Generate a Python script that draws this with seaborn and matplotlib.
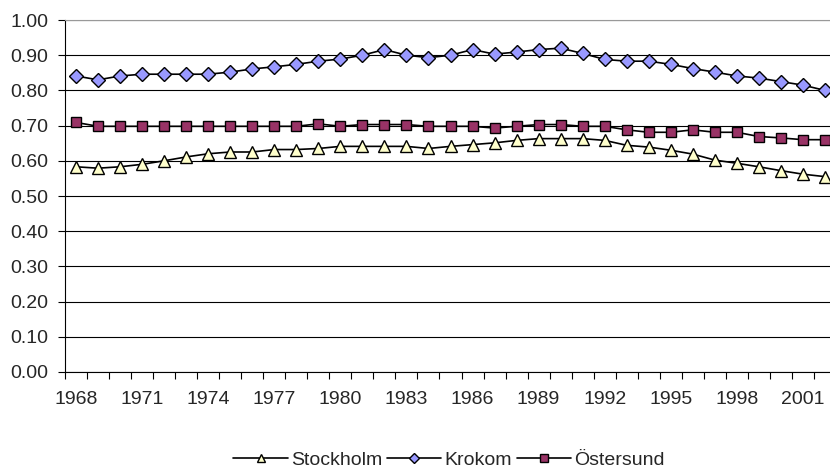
import numpy as np
import pandas as pd
import matplotlib
matplotlib.use("Agg")
import matplotlib.pyplot as plt
from matplotlib.lines import Line2D
from matplotlib.ticker import FixedLocator
import seaborn as sns

# values
years = list(range(1968, 2003))

stockholm = [0.583, 0.579, 0.583, 0.590, 0.600, 0.611, 0.620, 0.625, 0.625, 0.632,
             0.632, 0.635, 0.641, 0.641, 0.641, 0.641, 0.635, 0.641, 0.646, 0.651,
             0.658, 0.663, 0.663, 0.663, 0.658, 0.644, 0.639, 0.630, 0.619, 0.602,
             0.593, 0.583, 0.572, 0.562, 0.555]

krokom = [0.841, 0.830, 0.841, 0.846, 0.846, 0.846, 0.846, 0.852, 0.861, 0.867,
          0.874, 0.883, 0.889, 0.900, 0.916, 0.900, 0.893, 0.900, 0.916, 0.903,
          0.909, 0.916, 0.920, 0.905, 0.888, 0.883, 0.883, 0.874, 0.862, 0.852,
          0.841, 0.835, 0.825, 0.815, 0.800]

ostersund = [0.709, 0.698, 0.698, 0.698, 0.698, 0.698, 0.698, 0.698, 0.698, 0.698,
             0.698, 0.705, 0.698, 0.703, 0.703, 0.703, 0.698, 0.698, 0.698, 0.693,
             0.698, 0.703, 0.703, 0.698, 0.698, 0.688, 0.681, 0.681, 0.688, 0.681,
             0.681, 0.669, 0.665, 0.660, 0.660]

series_names = ["Stockholm", "Krokom", "Östersund"]
x_tick_labels = [str(y) for y in range(1968, 2002, 3)]
y_ticks = [0.0, 0.1, 0.2, 0.3, 0.4, 0.5, 0.6, 0.7, 0.8, 0.9, 1.0]

sns.set_style("white")
plt.rcParams['font.family'] = ['Liberation Sans', 'DejaVu Sans']

df = pd.DataFrame({"year": years, "Stockholm": stockholm,
                   "Krokom": krokom, "Östersund": ostersund})

fig = plt.figure(figsize=(8.3, 4.7), dpi=100)
# plot area runs a little past the right edge, as in the original
ax = fig.add_axes([65 / 830, 1 - 372 / 470, (836 - 65) / 830, (372 - 20) / 470])

styles = {
    "Stockholm": dict(marker="^", markerfacecolor="#FFFFCC"),
    "Krokom": dict(marker="D", markerfacecolor="#9999FF"),
    "Östersund": dict(marker="s", markerfacecolor="#993366"),
}
plot_sizes = {"Stockholm": 8.5, "Krokom": 7, "Östersund": 7}
legend_sizes = {"Stockholm": 6, "Krokom": 5, "Östersund": 5.5}

for name in series_names:
    sns.lineplot(data=df, x="year", y=name, ax=ax, color="black", linewidth=1.2,
                 markeredgecolor="black", markeredgewidth=1.0,
                 markersize=plot_sizes[name], **styles[name])

ax.set_xlim(1967.5, 2002.5)
ax.set_ylim(0, 1.0)
ax.yaxis.set_major_locator(FixedLocator(y_ticks))
ax.set_yticklabels([f"{v:.2f}" for v in y_ticks])
ax.grid(axis="y", color="black", linewidth=0.8)
ax.set_axisbelow(True)

# labels sit on categories, tick marks sit between them
ax.xaxis.set_major_locator(FixedLocator([int(s) for s in x_tick_labels]))
ax.set_xticklabels(x_tick_labels)
ax.xaxis.set_minor_locator(FixedLocator(np.arange(1967.5, 2003, 1)))
ax.tick_params(axis="x", which="major", length=0, pad=14, labelsize=14)
ax.tick_params(axis="x", which="minor", length=5, width=0.8, color="black", direction="out")
ax.tick_params(axis="y", length=5, width=0.8, color="black", direction="out", labelsize=14, pad=7)
ax.tick_params(bottom=True, left=True, which="both")

ax.set_xlabel("")
ax.set_ylabel("")

for side in ["left", "bottom"]:
    ax.spines[side].set_color("black")
    ax.spines[side].set_linewidth(0.8)
ax.spines["top"].set_color("#999999")
ax.spines["right"].set_visible(False)

handles = [Line2D([], [], color="black", linewidth=1.2, markeredgecolor="black",
                  markeredgewidth=1.0, markersize=legend_sizes[n], **styles[n])
           for n in series_names]
fig.legend(handles, series_names, loc="center", bbox_to_anchor=(449 / 830, 1 - 460 / 470),
           ncol=3, frameon=False, fontsize=14, handlelength=2.8, columnspacing=0.25,
           handletextpad=0.15, borderpad=0)

plt.savefig("out.png", dpi=100)
